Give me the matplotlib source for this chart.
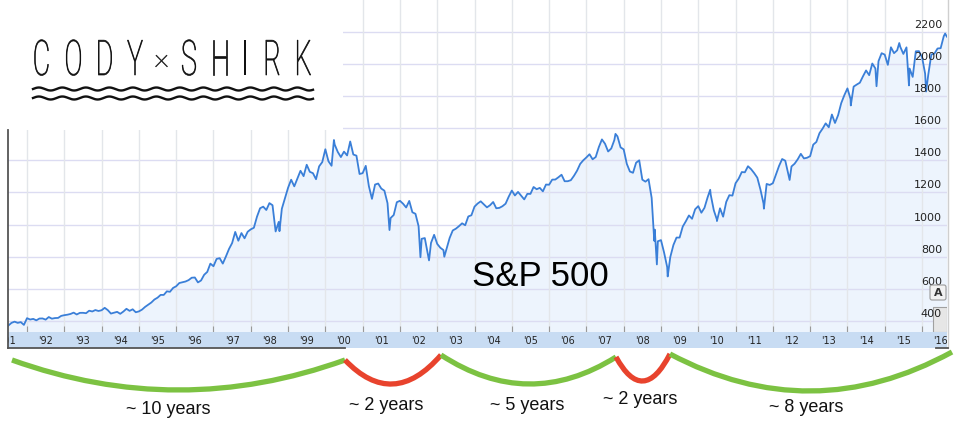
import numpy as np
import matplotlib
matplotlib.use("Agg")
import matplotlib.pyplot as plt
from matplotlib.path import Path
from matplotlib.patches import PathPatch, Rectangle, FancyBboxPatch
from matplotlib.textpath import TextPath
from matplotlib.font_manager import FontProperties
from matplotlib.transforms import Affine2D, blended_transform_factory

# S&P 500 month-end closes, June 1991 .. Aug 2016
start_year = 1991
start_month = 6
sp_close = [
    371.2, 387.8, 395.4, 387.9, 392.5, 375.2, 417.1,
    408.8, 412.7, 403.7, 414.9, 415.4, 408.1, 424.2, 414.0, 417.8, 418.7, 431.4, 435.7,
    438.8, 443.4, 451.7, 440.2, 450.2, 450.5, 448.1, 463.6, 458.9, 467.8, 461.8, 466.5,
    481.6, 467.1, 445.8, 450.9, 456.5, 444.3, 458.3, 475.5, 462.7, 472.4, 454.0, 459.3,
    470.4, 487.4, 500.7, 514.7, 533.4, 544.8, 562.1, 561.9, 584.4, 581.5, 605.4, 615.9,
    636.0, 640.4, 645.5, 654.2, 669.1, 670.6, 639.9, 652.0, 687.3, 705.3, 757.0, 740.7,
    786.2, 790.8, 757.1, 801.3, 848.3, 885.1, 954.3, 899.5, 947.3, 914.6, 955.4, 970.4,
    980.3, 1049.3, 1101.8, 1111.8, 1090.8, 1133.8, 1120.7, 957.3, 1017.0, 1098.7, 1163.6, 1229.2,
    1279.6, 1238.3, 1286.4, 1335.2, 1301.8, 1372.7, 1328.7, 1320.4, 1282.7, 1362.9, 1389.1, 1469.3,
    1394.5, 1366.4, 1498.6, 1452.4, 1420.6, 1454.6, 1430.8, 1517.7, 1436.5, 1429.4, 1315.2, 1320.3,
    1366.0, 1239.9, 1160.3, 1249.5, 1255.8, 1224.4, 1211.2, 1133.6, 1040.9, 1059.8, 1139.5, 1148.1,
    1130.2, 1106.7, 1147.4, 1076.9, 1067.1, 989.8, 911.6, 916.1, 815.3, 885.8, 936.3, 879.8,
    855.7, 841.2, 848.2, 916.9, 963.6, 974.5, 990.3, 1008.0, 996.0, 1050.7, 1058.2, 1111.9,
    1131.1, 1144.9, 1126.2, 1107.3, 1120.7, 1140.8, 1101.7, 1104.2, 1114.6, 1130.2, 1173.8, 1211.9,
    1181.3, 1203.6, 1180.6, 1156.9, 1191.5, 1191.3, 1234.2, 1220.3, 1228.8, 1207.0, 1249.5, 1248.3,
    1280.1, 1280.7, 1294.8, 1310.6, 1270.1, 1270.2, 1276.7, 1303.8, 1335.9, 1377.9, 1400.6, 1418.3,
    1438.2, 1406.8, 1420.9, 1482.4, 1530.6, 1503.4, 1455.3, 1474.0, 1526.8, 1549.4, 1481.1, 1468.4,
    1378.6, 1330.6, 1322.7, 1385.6, 1400.4, 1280.0, 1267.4, 1282.8, 1166.4, 968.8, 896.2, 903.3,
    825.9, 735.1, 797.9, 872.8, 919.1, 919.3, 987.5, 1020.6, 1057.1, 1036.2, 1095.6, 1115.1,
    1073.9, 1104.5, 1169.4, 1186.7, 1089.4, 1030.7, 1101.6, 1049.3, 1141.2, 1183.3, 1180.6, 1257.6,
    1286.1, 1327.2, 1325.8, 1363.6, 1345.2, 1320.6, 1292.3, 1218.9, 1131.4, 1253.3, 1247.0, 1257.6,
    1312.4, 1365.7, 1408.5, 1397.9, 1310.3, 1362.2, 1379.3, 1406.6, 1440.7, 1412.2, 1416.2, 1426.2,
    1498.1, 1514.7, 1569.2, 1597.6, 1630.7, 1606.3, 1685.7, 1633.0, 1681.6, 1756.5, 1805.8, 1848.4,
    1782.6, 1859.5, 1872.3, 1883.9, 1923.6, 1960.2, 1930.7, 2003.4, 1972.3, 2018.1, 2067.6, 2058.9,
    1995.0, 2104.5, 2067.9, 2085.5, 2107.4, 2063.1, 2104.0, 1972.2, 1920.0, 2079.4, 2080.4, 2043.9,
    1940.2, 1932.2, 2059.7, 2065.3, 2096.9, 2098.9, 2173.6, 2170.9,
]

# swings inside a month that show up in the weekly line
swing_dates = [1998.77, 2000.23, 2001.72, 2002.55, 2002.78, 2003.19, 2007.78, 2008.82,
               2008.89, 2009.18, 2010.32, 2010.50, 2011.76, 2012.45, 2014.09, 2014.78,
               2015.39, 2015.65, 2016.11, 2016.62]
swing_values = [959, 1527, 966, 797, 777, 800, 1565, 899,
                752, 677, 1217, 1022, 1099, 1278, 1742, 1862,
                2131, 1867, 1829, 2190]

year_labels = ["'91", "'92", "'93", "'94", "'95", "'96", "'97", "'98", "'99", "'00",
               "'01", "'02", "'03", "'04", "'05", "'06", "'07", "'08", "'09", "'10",
               "'11", "'12", "'13", "'14", "'15", "'16"]
price_ticks = [400, 600, 800, 1000, 1200, 1400, 1600, 1800, 2000, 2200]

# cycles drawn under the chart: label, color, x0, y0, x1, y1, lowest y, text x, text y (pixels)
cycles = [
    ("~ 10 years", "#7cc242", 12, 360, 345, 360, 390, 168, 410),
    ("~ 2 years", "#e8432d", 345, 360, 441, 355, 384, 386, 405),
    ("~ 5 years", "#7cc242", 441, 355, 616, 357, 384, 527, 405),
    ("~ 2 years", "#e8432d", 616, 357, 670, 354, 381, 640, 400),
    ("~ 8 years", "#7cc242", 670, 354, 952, 352, 391, 806, 408),
]

months = np.arange(len(sp_close))
dates = np.concatenate([start_year + (start_month + months) / 12.0, swing_dates])
values = np.concatenate([sp_close, swing_values])
order = np.argsort(dates)
dates, values = dates[order], values[order]

W, H = 956, 430
fig = plt.figure(figsize=(W / 100, H / 100), dpi=100)
fig.patch.set_facecolor("white")

# main chart, px 8..947 wide, 0..332 tall
ax = fig.add_axes([8 / W, (H - 332) / H, 939 / W, 332 / H])
ax.set_facecolor("white")
x_lo, x_hi = 1991.49, 2016.67
ax.set_xlim(x_lo, x_hi)
ax.set_ylim(331, 2399)
for v in price_ticks:
    ax.axhline(v, color="#dcdcf2", lw=1.0, zorder=1.5)
years = np.arange(1992, 2017)
for yr in years:
    ax.axvline(yr, color="#e3e6ea", lw=1.0, zorder=1.5)
ax.fill_between(dates, values, 0, color="#edf4fd", lw=0, zorder=1)
ax.plot(dates, values, color="#3a7fd8", lw=1.3, zorder=3)
ax.set_xticks(years)
ax.set_xticklabels([])
ax.tick_params(axis="x", direction="in", length=4, color="#999999", width=0.8)
ax.set_yticks([])
for s in ax.spines.values():
    s.set_visible(False)

# scrollbar stub behind the lowest price label
ax.add_patch(Rectangle((0.985, 0.0), 0.015, 0.075, transform=ax.transAxes,
                       facecolor="#e6e6e6", edgecolor="#a0a0a0", lw=0.8, zorder=3.5))

trans = blended_transform_factory(ax.transAxes, ax.transData)
for v in price_ticks:
    ax.annotate(str(v), xy=(0.9947, v), xycoords=trans, xytext=(0, 1.5),
                textcoords="offset points", ha="right", va="bottom",
                fontsize=8, color="#222222", zorder=4)
fig.text(540 / W, 1 - 277 / H, "S&P 500", ha="center", va="center",
         fontsize=25, family="Liberation Sans", color="black", zorder=5)

# year band under the chart
band = fig.add_axes([8 / W, (H - 348) / H, 939 / W, 16 / H])
band.set_facecolor("#c8dcf3")
band.set_xlim(x_lo, x_hi)
band.set_ylim(0, 1)
band.set_xticks([])
band.set_yticks([])
for s in band.spines.values():
    s.set_visible(False)
for i, lab in enumerate(year_labels):
    band.text(1991.5 + i, 0.45, lab, ha="center", va="center", fontsize=7,
              color="#222222", clip_on=True)

# overlay in pixel units for logo, borders and cycle arcs
ov = fig.add_axes([0, 0, 1, 1], zorder=10)
ov.set_xlim(0, W)
ov.set_ylim(H, 0)
ov.axis("off")

ov.add_patch(Rectangle((0, 0), 343, 130, facecolor="white", edgecolor="none"))
fp = FontProperties(family=["Roboto", "DejaVu Sans"], weight="light")
logo = [("C", 41.5), ("O", 73.5), ("D", 105), ("Y", 135), ("S", 189),
        ("H", 220), ("R", 272.5), ("K", 304)]
for ch, xc in logo:
    tp = TextPath((0, 0), ch, size=49, prop=fp)
    ext = tp.get_extents()
    cx = (ext.x0 + ext.x1) / 2
    tr = Affine2D().translate(-cx, 0).scale(0.55, -1).translate(xc, 75)
    ov.add_patch(PathPatch(tr.transform_path(tp), facecolor="#111111",
                           edgecolor="#111111", lw=0.5))
# the I is just a stem
ov.add_patch(Rectangle((244, 40), 2.0, 35, facecolor="#111111", edgecolor="none"))
tp = TextPath((0, 0), "\u00d7", size=49, prop=fp)
ext = tp.get_extents()
sc = 12 / ext.height
tr = Affine2D().translate(-(ext.x0 + ext.x1) / 2, -(ext.y0 + ext.y1) / 2).scale(sc, -sc).translate(161.5, 61)
ov.add_patch(PathPatch(tr.transform_path(tp), facecolor="#111111", edgecolor="#111111", lw=0.3))
wx = np.linspace(33, 313, 400)
for wy in (89, 98):
    ov.plot(wx, wy - 1.5 * np.sin((wx - 33) / 23.5 * 2 * np.pi), color="#111111", lw=1.7)

# borders of the pasted chart
ov.plot([8, 8], [130, 348], color="#555555", lw=1.3)
ov.plot([8, 345], [348, 348], color="#555555", lw=1.3)
ov.plot([948, 948], [0, 348], color="#cfcfcf", lw=1.0)
ov.plot([936, 948], [348, 348], color="#555555", lw=1.3)

# autoscale button
ov.add_patch(FancyBboxPatch((930, 285), 16, 15, boxstyle="round,pad=0,rounding_size=2",
                            facecolor="#f2f2f2", edgecolor="#9a9a9a", lw=0.8))
ov.text(938, 293, "A", ha="center", va="center", fontsize=8, fontweight="bold", color="#333333")

for label, col, x0, y0, x1, y1, low, tx, ty in cycles:
    yc = 2 * low - (y0 + y1) / 2
    p = Path([(x0, y0), ((x0 + x1) / 2, yc), (x1, y1)],
             [Path.MOVETO, Path.CURVE3, Path.CURVE3])
    ov.add_patch(PathPatch(p, facecolor="none", edgecolor=col, lw=3.8, capstyle="butt"))
    ov.text(tx, ty, label, ha="center", va="center", fontsize=13,
            family=["Liberation Sans Narrow", "Liberation Sans"], color="#111111")

fig.savefig("out.png", dpi=100, facecolor="white")
